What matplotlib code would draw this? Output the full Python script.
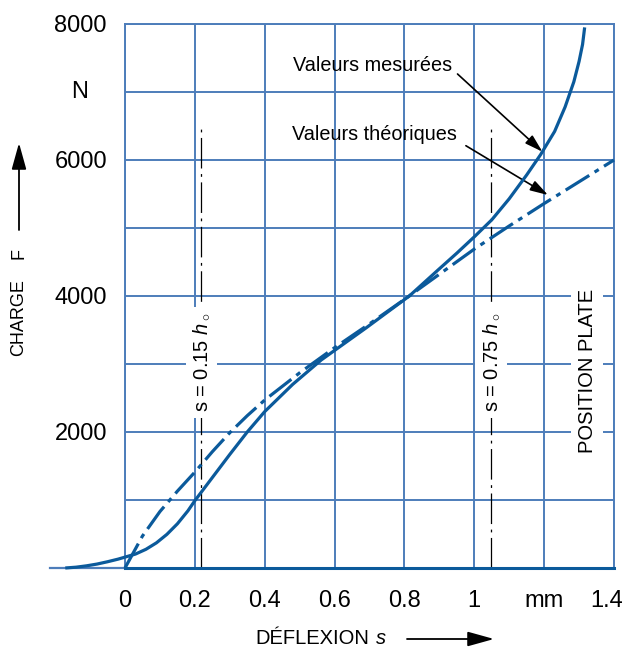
import matplotlib
matplotlib.use('Agg')
import matplotlib.pyplot as plt
from matplotlib.patches import FancyArrowPatch
from matplotlib.transforms import ScaledTranslation

plt.rcParams['font.family'] = ['Liberation Sans', 'DejaVu Sans']
plt.rcParams['mathtext.fontset'] = 'custom'
plt.rcParams['mathtext.rm'] = 'Liberation Sans'
plt.rcParams['mathtext.it'] = 'Liberation Sans:italic'
plt.rcParams['lines.scale_dashes'] = False

# measured curve (Valeurs mesurées)
meas_s = [-0.171, -0.14, -0.11, -0.08, -0.05, -0.02, 0, 0.03, 0.06, 0.09, 0.12, 0.15,
          0.18, 0.2, 0.25, 0.3, 0.35, 0.4, 0.48, 0.562, 0.69, 0.814, 0.9, 0.95,
          1.0, 1.05, 1.1, 1.15, 1.19, 1.23, 1.26, 1.285, 1.30, 1.31, 1.316]
meas_F = [0, 12, 32, 58, 92, 130, 160, 205, 275, 370, 495, 650,
          840, 990, 1330, 1670, 2000, 2300, 2700, 3060, 3530, 4000, 4400, 4630,
          4870, 5120, 5430, 5780, 6080, 6420, 6780, 7150, 7450, 7700, 7950]

# theoretical curve (Valeurs théoriques)
theo_s = [0, 0.05, 0.1, 0.15, 0.2, 0.25, 0.3, 0.35, 0.4, 0.5, 0.6, 0.7, 0.8, 0.9,
          1.0, 1.1, 1.2, 1.3, 1.4]
theo_F = [0, 470, 830, 1130, 1410, 1710, 1990, 2240, 2470, 2870, 3240, 3590, 3950, 4320,
          4690, 5030, 5360, 5680, 6000]

x_ticks = [0, 0.2, 0.4, 0.6, 0.8, 1.0, 1.2, 1.4]
x_labels = ['0', '0.2', '0.4', '0.6', '0.8', '1', 'mm', '1.4']
y_ticks = [1000, 2000, 3000, 4000, 5000, 6000, 7000, 8000]
y_labels = ['', '2000', '', '4000', '', '6000', '', '8000']

marks_s = [0.219, 1.048]
marks_txt = [r's = 0.15 $h_\circ$', r's = 0.75 $h_\circ$']

grid_c = '#4d7dba'
curve_c = '#0b5a9b'

fig = plt.figure(figsize=(6.28, 6.48), dpi=100)
ax = fig.add_axes([125/628, 1-568/648, 489/628, 544/648])
ax.set_xlim(0, 1.4)
ax.set_ylim(0, 8000)

ax.set_xticks(x_ticks, x_labels)
ax.set_yticks(y_ticks, y_labels)
ax.tick_params(length=0, labelsize=17)
ax.tick_params(axis='x', pad=16)
ax.tick_params(axis='y', pad=13)
last = ax.get_xticklabels()[-1]
last.set_ha('right')
last.set_transform(last.get_transform() + ScaledTranslation(9/100, 0, fig.dpi_scale_trans))

ax.grid(color=grid_c, lw=1.4)
ax.set_axisbelow(True)
for side in ['left', 'top', 'right']:
    ax.spines[side].set_color(grid_c)
    ax.spines[side].set_linewidth(1.4)
ax.spines['bottom'].set_color(curve_c)
ax.spines['bottom'].set_linewidth(2.2)
ax.plot([-0.214, 0], [0, 0], color=grid_c, lw=1.6, clip_on=False, zorder=1)

ax.text(-0.13, 7000, 'N', fontsize=17, ha='center', va='center')

# dash-dot marker lines with labels
for s, txt in zip(marks_s, marks_txt):
    ax.plot([s, s], [0, 6480], color='black', lw=0.9,
            linestyle=(0, (22, 4, 2, 4)), zorder=2)
    ax.text(s, 3020, txt, rotation=90, fontsize=14.5, ha='center', va='center',
            bbox=dict(facecolor='white', edgecolor='none', pad=4), zorder=3)

ax.text(1.323, 2900, 'POSITION PLATE', rotation=90, fontsize=14.5,
        ha='center', va='center',
        bbox=dict(facecolor='white', edgecolor='none', pad=5), zorder=3)

ax.plot(theo_s, theo_F, color=curve_c, lw=2.3,
        linestyle=(0, (20, 4.5, 3.5, 4.5)), clip_on=False, zorder=4)
ax.plot(meas_s, meas_F, color=curve_c, lw=2.3, clip_on=False, zorder=4,
        solid_capstyle='butt', solid_joinstyle='round')

arrow = dict(arrowstyle='-|>,head_length=0.6,head_width=0.18', color='black',
             lw=1.2, mutation_scale=18, shrinkA=0, shrinkB=0)
ax.text(0.48, 7397, 'Valeurs mesurées', fontsize=14.3, ha='left', va='center')
ax.annotate('', xy=(1.195, 6122), xytext=(0.952, 7265), arrowprops=arrow)
ax.text(0.477, 6368, 'Valeurs théoriques', fontsize=14.3, ha='left', va='center')
ax.annotate('', xy=(1.211, 5485), xytext=(0.976, 6210), arrowprops=arrow)

# axis titles with arrows
fig.text(255/628, 1-639/648, 'DÉFLEXION', fontsize=14.5, ha='left', va='center')
fig.text(376/628, 1-639/648, 's', fontsize=14.5, style='italic', ha='left', va='center')
fig.text(19/628, 1-318/648, 'CHARGE', fontsize=13, rotation=90,
         ha='center', va='center')
fig.text(19/628, 1-253/648, 'F', fontsize=13, rotation=90,
         ha='center', va='center')
head = dict(arrowstyle='-|>,head_length=0.9,head_width=0.25', color='black',
            lw=1.3, mutation_scale=18, shrinkA=0, shrinkB=0)
fig.add_artist(FancyArrowPatch((407/628, 1-639/648), (494/628, 1-639/648),
                               transform=fig.transFigure, **head))
fig.add_artist(FancyArrowPatch((19/628, 1-230/648), (19/628, 1-143/648),
                               transform=fig.transFigure, **head))

fig.savefig('out.png', dpi=100)
